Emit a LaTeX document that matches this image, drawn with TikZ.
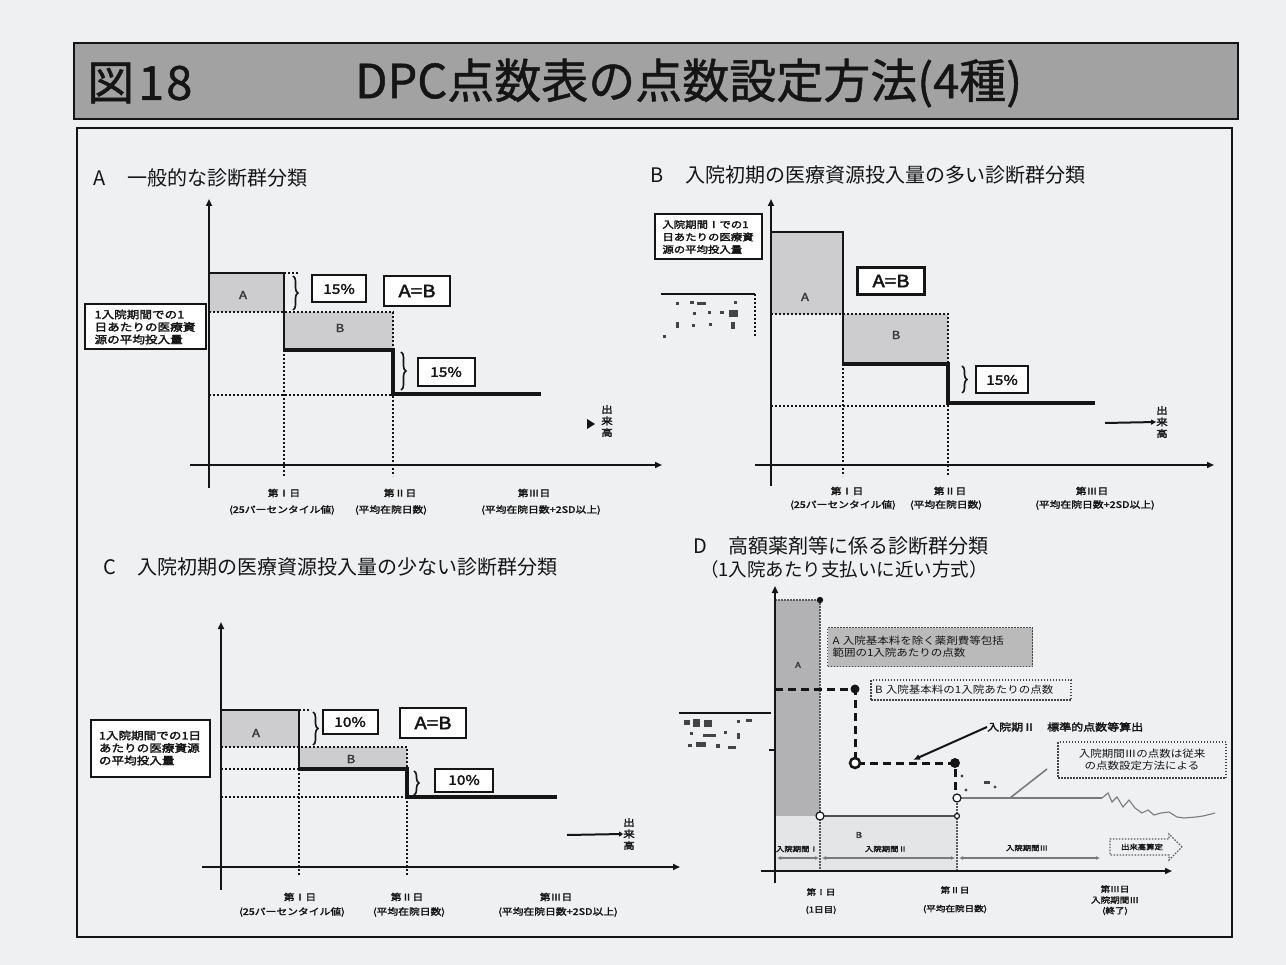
\documentclass[tikz,border=0pt]{standalone}
\usepackage{fontspec}
\setmainfont{Noto Sans CJK JP}
\newfontfamily\wf[FakeStretch=1.15]{Noto Sans CJK JP}
\newfontfamily\wfb[FakeStretch=1.2,FakeBold=2.5]{Noto Sans CJK JP}
\newfontfamily\ttlfont[FakeBold=1]{Noto Sans CJK JP}
\usetikzlibrary{arrows.meta,decorations.pathreplacing,shapes.arrows}
\definecolor{paper}{HTML}{EFF0F2}
\definecolor{barg}{HTML}{A2A2A2}
\definecolor{fillA}{HTML}{CDCDCF}
\definecolor{fillD}{HTML}{B2B2B4}
\definecolor{fillDB}{HTML}{E4E5E7}
\definecolor{ink}{HTML}{151515}
\definecolor{gline}{HTML}{7A7A7A}
\begin{document}
\begin{tikzpicture}[x=1pt,y=-1pt,
  axisl/.style={draw=ink, line width=2.4pt, -{Triangle[length=7pt,width=6pt]}},
  solidl/.style={draw=ink, line width=2.2pt},
  heavyl/.style={draw=ink, line width=3.6pt},
  dotl/.style={draw=ink, line width=2pt, dash pattern=on 2pt off 2pt},
  thindot/.style={draw=ink!70, line width=1.2pt, dash pattern=on 1.5pt off 1.5pt},
  dashl/.style={draw=ink, line width=3pt, dash pattern=on 8pt off 5pt},
  ptitle/.style={anchor=west, inner sep=0pt, font=\fontsize{20}{21}\selectfont, text=ink},
  daylbl/.style={inner sep=0pt, font=\wfb\fontsize{9}{10}\selectfont, text=ink},
  ylbl/.style={draw=ink, line width=2pt, fill=white, inner sep=2pt, align=left, font=\wfb\fontsize{10.5}{12.5}\selectfont, text=ink},
  pctbox/.style={draw=ink, line width=2pt, fill=white, inner sep=0pt, font=\wfb\fontsize{13}{13}\selectfont, text=ink},
  eqbox/.style={draw=ink, line width=2.4pt, fill=white, inner sep=0pt, font=\wfb\fontsize{17}{17}\selectfont, text=ink},
  reglbl/.style={inner sep=0pt, font=\wfb\fontsize{11}{11}\selectfont, text=ink!85},
  vlbl/.style={inner sep=0pt, align=center, font=\wfb\fontsize{9.5}{11.5}\selectfont, text=ink},
  brc/.style={draw=ink, line width=1.6pt, decorate, decoration={brace, amplitude=5pt}},
  dbox/.style={draw=ink!80, line width=1.4pt, dash pattern=on 1.5pt off 1.5pt, inner sep=0pt, align=left, font=\wf\fontsize{10}{12}\selectfont, text=ink},
  noise/.style={fill=ink!80},
]
\useasboundingbox (0,0) rectangle (1286,965);
\fill[paper] (0,0) rectangle (1286,965);

% ---------------- title bar ----------------
\fill[barg] (74,43) rectangle (1238,119);
\draw[ink, line width=2.2pt] (74,43) rectangle (1238,119);
\node[anchor=west, inner sep=0pt, font=\ttlfont\fontsize{47}{47}\selectfont, text=ink] (fig) at (87,83) {図\hspace{4pt}1\hspace{2pt}8};
\node[anchor=west, inner sep=0pt, font=\ttlfont\fontsize{47}{47}\selectfont, text=ink] (ttl) at (355,83) {DPC点数表の点数設定方法(4種)};

% ---------------- frame ----------------
\draw[ink, line width=2.2pt] (77,128) rectangle (1232,937);

% ---------------- Panel A ----------------
\node[ptitle] (tA) at (93,178) {A\hspace{22pt}一般的な診断群分類};
\fill[fillA] (209,273) rectangle (284,312);
\fill[fillA] (284,312) rectangle (393,350);
\draw[dotl] (209,312) -- (393,312) -- (393,476);
\draw[dotl] (209,395) -- (393,395);
\draw[dotl] (284,350) -- (284,476);
\draw[dotl] (284,273) -- (298,273);
\draw[solidl] (209,273) -- (284,273) -- (284,350);
\draw[heavyl] (284,350) -- (393,350) -- (393,394) -- (541,394);
\draw[axisl] (209,488) -- (209,199);
\draw[axisl] (190,465) -- (662,465);
\node[reglbl] (rAa) at (243,295) {A};
\node[reglbl] (rAb) at (340,328) {B};
\draw[brc] (293,276) -- (293,310);
\node[pctbox, minimum width=54pt, minimum height=27pt] (pA1) at (339,289) {15\%};
\node[eqbox, minimum width=66pt, minimum height=30pt] (eA) at (417,291) {A=B};
\node[ylbl, minimum width=121pt, minimum height=45pt] (yA) at (145,327) {1入院期間での1\\日あたりの医療資\\源の平均投入量};
\draw[brc] (401,352) -- (401,390);
\node[pctbox, minimum width=57pt, minimum height=28pt] (pA2) at (446,372) {15\%};
\node[vlbl] (oA) at (607,421) {出\\来\\高};
\fill[ink] (587,419) -- (595,424) -- (587,429) -- cycle;
\node[daylbl] (dA1) at (284,493) {第Ⅰ日};
\node[daylbl] (dA1b) at (282,510) {(25パーセンタイル値)};
\node[daylbl] (dA2) at (400,493) {第Ⅱ日};
\node[daylbl] (dA2b) at (391,510) {(平均在院日数)};
\node[daylbl] (dA3) at (534,493) {第Ⅲ日};
\node[daylbl] (dA3b) at (541,510) {(平均在院日数+2SD以上)};

% ---------------- Panel B ----------------
\node[ptitle] (tB) at (650,175) {B\hspace{22pt}入院初期の医療資源投入量の多い診断群分類};
\fill[fillA] (771,232) rectangle (843,314);
\fill[fillA] (843,314) rectangle (948,362);
\draw[dotl] (771,314) -- (948,314) -- (948,476);
\draw[dotl] (771,406) -- (948,406);
\draw[dotl] (843,364) -- (843,476);
\draw[solidl] (771,232) -- (843,232) -- (843,364);
\draw[heavyl] (843,364) -- (948,364) -- (948,403) -- (1095,403);
\draw[axisl] (771,486) -- (771,199);
\draw[axisl] (755,465) -- (1214,465);
\node[reglbl] (rBa) at (805,297) {A};
\node[reglbl] (rBb) at (896,335) {B};
\node[eqbox, minimum width=67pt, minimum height=27pt] (eB) at (891,281) {A=B};
\node[ylbl, minimum width=107pt, minimum height=45pt, font=\wfb\fontsize{9.5}{12.5}\selectfont] (yB) at (708,237) {入院期間Ⅰでの1\\日あたりの医療資\\源の平均投入量};
\draw[ink, line width=2pt] (661,294) -- (755,294);
\draw[dotl] (755,294) -- (755,337);
\fill[noise] (676,302) rectangle (679,305);
\fill[noise] (690,301) rectangle (694,304);
\fill[noise] (697,302) rectangle (706,305);
\fill[noise] (734,301) rectangle (737,304);
\fill[noise] (693,312) rectangle (696,315);
\fill[noise] (708,311) rectangle (711,314);
\fill[noise] (720,311) rectangle (724,314);
\fill[noise] (729,310) rectangle (738,317);
\fill[noise] (676,322) rectangle (679,328);
\fill[noise] (692,324) rectangle (695,327);
\fill[noise] (709,323) rectangle (712,326);
\fill[noise] (731,322) rectangle (735,329);
\fill[noise] (663,335) rectangle (666,338);
\draw[brc] (962,366) -- (962,393);
\node[pctbox, minimum width=52pt, minimum height=27pt] (pB) at (1002,380) {15\%};
\node[vlbl] (oB) at (1162,422) {出\\来\\高};
\draw[ink, line width=2pt, -{Triangle[length=5pt,width=5pt]}] (1105,423) -- (oB.west);
\node[daylbl] (dB1) at (847,491) {第Ⅰ日};
\node[daylbl] (dB1b) at (843,505) {(25パーセンタイル値)};
\node[daylbl] (dB2) at (950,491) {第Ⅱ日};
\node[daylbl] (dB2b) at (946,505) {(平均在院日数)};
\node[daylbl] (dB3) at (1092,491) {第Ⅲ日};
\node[daylbl] (dB3b) at (1095,505) {(平均在院日数+2SD以上)};

% ---------------- Panel C ----------------
\node[ptitle] (tC) at (103,567) {C\hspace{22pt}入院初期の医療資源投入量の少ない診断群分類};
\fill[fillA] (221,710) rectangle (299,747);
\fill[fillA] (299,747) rectangle (407,769);
\draw[dotl] (221,747) -- (407,747) -- (407,876);
\draw[dotl] (221,769) -- (299,769);
\draw[dotl] (221,797) -- (407,797);
\draw[dotl] (299,769) -- (299,876);
\draw[dotl] (299,710) -- (311,710);
\draw[solidl] (221,710) -- (299,710) -- (299,769);
\draw[heavyl] (299,769) -- (407,769) -- (407,797) -- (557,797);
\draw[axisl] (221,890) -- (221,622);
\draw[axisl] (202,867) -- (680,867);
\node[reglbl] (rCa) at (256,733) {A};
\node[reglbl] (rCb) at (351,759) {B};
\draw[brc] (313,712) -- (313,745);
\node[pctbox, minimum width=55pt, minimum height=24pt] (pC1) at (350,722) {10\%};
\node[eqbox, minimum width=66pt, minimum height=30pt] (eC) at (433,723) {A=B};
\node[ylbl, minimum width=119pt, minimum height=57pt] (yC) at (150,748) {1入院期間での1日\\あたりの医療資源\\の平均投入量};
\draw[brc] (414,771) -- (414,795);
\node[pctbox, minimum width=58pt, minimum height=23pt] (pC2) at (464,780) {10\%};
\node[vlbl] (oC) at (629,834) {出\\来\\高};
\draw[ink, line width=2pt, -{Triangle[length=4pt,width=5pt]}] (567,835) -- (oC.west);
\node[daylbl] (dC1) at (300,897) {第Ⅰ日};
\node[daylbl] (dC1b) at (292,912) {(25パーセンタイル値)};
\node[daylbl] (dC2) at (407,897) {第Ⅱ日};
\node[daylbl] (dC2b) at (409,912) {(平均在院日数)};
\node[daylbl] (dC3) at (556,897) {第Ⅲ日};
\node[daylbl] (dC3b) at (558,912) {(平均在院日数+2SD以上)};

% ---------------- Panel D ----------------
\node[ptitle] (tD1) at (693,546) {D\hspace{22pt}高額薬剤等に係る診断群分類};
\node[ptitle, font=\fontsize{18.5}{20}\selectfont] (tD2) at (700,569) {（1入院あたり支払いに近い方式）};
\fill[fillD] (775,600) rectangle (820,816);
\fill[fillDB] (775,816) rectangle (957,871);
\draw[thindot] (775,600) -- (820,600);
\draw[thindot] (820,600) -- (820,871);
\draw[thindot] (957,800) -- (957,871);
\draw[draw=ink!75, line width=1.4pt] (820,816) -- (957,816);
\fill[ink] (820,600) circle (3.2);
\draw[ink, line width=1.2pt, fill=white] (820,816) circle (4);
\draw[ink, line width=1.2pt, fill=white] (957,816) circle (2.5);
\draw[ink, line width=2pt] (679,713) -- (771,713);
\draw[ink, line width=1.5pt] (769,750) -- (775,750);
\fill[noise] (684,720) rectangle (690,725);
\fill[noise] (693,719) rectangle (700,727);
\fill[noise] (704,720) rectangle (712,727);
\fill[noise] (737,720) rectangle (740,723);
\fill[noise] (746,719) rectangle (752,722);
\fill[noise] (690,732) rectangle (693,735);
\fill[noise] (703,734) rectangle (716,737);
\fill[noise] (724,731) rectangle (727,734);
\fill[noise] (737,733) rectangle (740,739);
\fill[noise] (688,744) rectangle (692,747);
\fill[noise] (696,742) rectangle (706,747);
\fill[noise] (716,744) rectangle (720,748);
\fill[noise] (728,746) rectangle (736,749);
\draw[dashl] (775,689) -- (855,689) -- (855,763) -- (955,763) -- (955,797);
\fill[ink] (855,689) circle (4.5);
\draw[ink, line width=2.5pt, fill=white] (855,763) circle (5);
\fill[ink] (955,763) circle (5);
\draw[gline, line width=2.2pt] (957,798) -- (1102,798);
\draw[ink, line width=1.2pt, fill=white] (957,798) circle (4);
\draw[gline, line width=1.1pt] (1102,798) -- (1108,793) -- (1112,802) -- (1117,797) -- (1123,807) -- (1129,800) -- (1135,808) -- (1142,813) -- (1148,810) -- (1154,815) -- (1161,813) -- (1169,812) -- (1177,817) -- (1184,818) -- (1196,817) -- (1203,816) -- (1215,813);
\fill[noise] (962,776) circle (1.6);
\fill[noise] (966,790) circle (1.6);
\fill[noise] (984,781) rectangle (990,784);
\fill[noise] (995,787) circle (1.6);
\node[reglbl, font=\wfb\fontsize{8}{8}\selectfont] (rDa) at (798,665) {A};
\node[reglbl, font=\wfb\fontsize{8}{8}\selectfont] (rDb) at (859,835) {B};
\node[dbox, fill=fillD!90, minimum width=205pt, minimum height=39pt, text width=195pt] (bDA) at (930,647) {A 入院基本料を除く薬剤費等包括\\範囲の1入院あたりの点数};
\node[dbox, fill=paper, minimum width=200pt, minimum height=20pt, text width=192pt] (bDB) at (971,690) {B 入院基本料の1入院あたりの点数};
\node[anchor=west, inner sep=0pt, font=\wfb\fontsize{10}{10}\selectfont, text=ink] (lI) at (987,727) {入院期Ⅱ　標準的点数等算出};
\coordinate (aT) at (913,760);
\draw[ink, line width=2pt, -{Latex[length=7pt,width=6pt]}] (lI.west) -- (aT);
\node[dbox, fill=paper, minimum width=168pt, minimum height=36pt, align=center] (bR) at (1142,760) {入院期間Ⅲの点数は従来\\の点数設定方法による};
\coordinate (pRs) at (1047,769);
\coordinate (pR) at (1010,798);
\draw[gline, line width=1.6pt] (pRs) -- (pR);
\draw[axisl] (775,883) -- (775,586);
\draw[axisl] (761,871) -- (1172,871);
\draw[gline, line width=1.6pt, {Latex[length=4pt,width=4pt]}-{Latex[length=4pt,width=4pt]}] (777,858) -- (819,858);
\draw[gline, line width=1.6pt, {Latex[length=4pt,width=4pt]}-{Latex[length=4pt,width=4pt]}] (822,858) -- (955,858);
\draw[gline, line width=1.6pt, {Latex[length=4pt,width=4pt]}-{Latex[length=4pt,width=4pt]}] (959,858) -- (1100,858);
\node[inner sep=0pt, font=\wfb\fontsize{7}{7}\selectfont, text=ink] (pI) at (797,849) {入院期間Ⅰ};
\node[inner sep=0pt, font=\wfb\fontsize{7}{7}\selectfont, text=ink] (pII) at (886,849) {入院期間Ⅱ};
\node[inner sep=0pt, font=\wfb\fontsize{7}{7}\selectfont, text=ink] (pIII) at (1027,848) {入院期間Ⅲ};
\node[single arrow, draw=ink!70, line width=1.2pt, dash pattern=on 1.5pt off 1.5pt, fill=paper, minimum height=72pt, minimum width=26pt, single arrow head extend=3pt, inner sep=1pt, font=\wfb\fontsize{7}{7}\selectfont, text=ink] (dk) at (1142,847) {出来高算定};
\node[daylbl, font=\wfb\fontsize{8}{9}\selectfont] (dD1) at (821,892) {第Ⅰ日};
\node[daylbl, font=\wfb\fontsize{8}{9}\selectfont] (dD1b) at (821,910) {(1日目)};
\node[daylbl, font=\wfb\fontsize{8}{9}\selectfont] (dD2) at (955,890) {第Ⅱ日};
\node[daylbl, font=\wfb\fontsize{8}{9}\selectfont] (dD2b) at (955,909) {(平均在院日数)};
\node[daylbl, font=\wfb\fontsize{8}{9}\selectfont] (dD3) at (1115,889) {第Ⅲ日};
\node[daylbl, font=\wfb\fontsize{8}{9}\selectfont] (dD3b) at (1115,900) {入院期間Ⅲ};
\node[daylbl, font=\wfb\fontsize{8}{9}\selectfont] (dD3c) at (1115,911) {(終了)};
\end{tikzpicture}
\end{document}
